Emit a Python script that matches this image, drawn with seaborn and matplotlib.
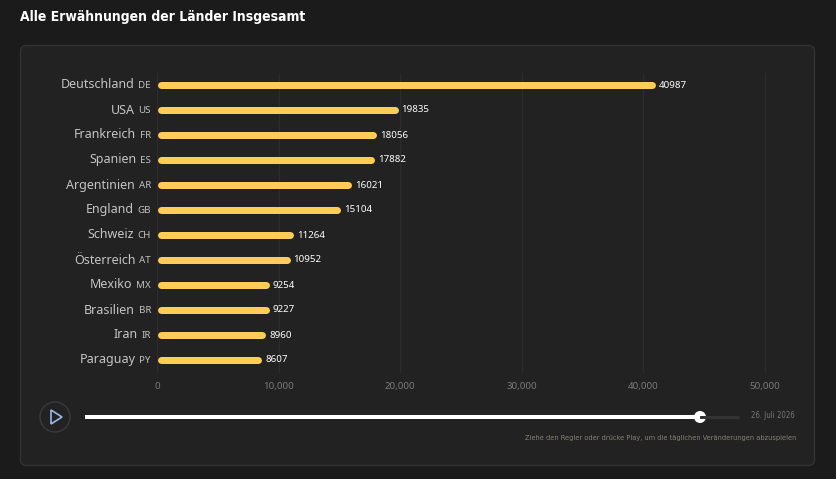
import matplotlib
matplotlib.use("Agg")
import matplotlib.pyplot as plt
import seaborn as sns
import pandas as pd
from matplotlib.patches import FancyBboxPatch, Circle, Polygon
from matplotlib.lines import Line2D
from matplotlib.ticker import FuncFormatter

countries = ["Deutschland", "USA", "Frankreich", "Spanien", "Argentinien", "England",
             "Schweiz", "Österreich", "Mexiko", "Brasilien", "Iran", "Paraguay"]
codes = ["DE", "US", "FR", "ES", "AR", "GB", "CH", "AT", "MX", "BR", "IR", "PY"]
values = [40987, 19835, 18056, 17882, 16021, 15104, 11264, 10952, 9254, 9227, 8960, 8607]
x_ticks = [0, 10000, 20000, 30000, 40000, 50000]
title = "Alle Erwähnungen der Länder Insgesamt"
date_label = "26. Juli 2026"
hint = "Ziehe den Regler oder drücke Play, um die täglichen Veränderungen abzuspielen"

sns.set_theme(style="dark")
plt.rcParams['font.family'] = ['Noto Sans', 'DejaVu Sans']
NARROW = ["DejaVu Sans"]

W, H = 836, 479
fig = plt.figure(figsize=(W / 100, H / 100), dpi=100, facecolor="#1b1b1b")

def px(x, y):
    return (x, H - y)

# panel
panel = FancyBboxPatch((20.5, H - 465.5), 794, 420, boxstyle="round,pad=0,rounding_size=6",
                       transform=None, facecolor="#222222", edgecolor="#333333", lw=1, zorder=-5)
fig.patches.append(panel)

fig.text(20 / W, 1 - 17 / H, title, color="white", fontsize=10, fontweight="bold",
         family=NARROW, fontstretch="condensed", va="center", ha="left")

ax = fig.add_axes([157 / W, 1 - 372.5 / H, (771 - 157) / W, 300 / H])
ax.set_zorder(2)
ax.set_facecolor("none")
df = pd.DataFrame({"country": countries, "value": values})
sns.barplot(data=df, x="value", y="country", orient="h", color="#FFCD57", width=0.28, ax=ax)
ax.set_xlim(0, 50500)
ax.set_ylim(11.5, -0.5)
ax.set_xticks(x_ticks)
ax.xaxis.set_major_formatter(FuncFormatter(lambda v, p: f"{int(v):,}"))
ax.tick_params(axis="x", colors="#7a7a7a", labelsize=7, length=0, pad=7)
ax.tick_params(axis="y", length=0, labelleft=False)
ax.set_xlabel("")
ax.set_ylabel("")
for s in ax.spines.values():
    s.set_visible(False)
ax.grid(axis="x", color="#2c2c2c", lw=1)
ax.grid(axis="y", visible=False)
ax.set_axisbelow(True)

fig.canvas.draw()
unit = 1 / (ax.transData.transform((1, 0))[0] - ax.transData.transform((0, 0))[0])
lw_px = 7
for p, v in zip(ax.patches, values):
    p.set_visible(False)
    yc = p.get_y() + p.get_height() / 2
    x0 = p.get_x() + lw_px / 2 * unit
    x1 = p.get_x() + p.get_width() - lw_px / 2 * unit
    ax.add_line(Line2D([x0, x1], [yc, yc], color="#FFCD57", lw=lw_px * 0.72,
                       solid_capstyle="round", zorder=3))
    ax.annotate(f"{v}", xy=(p.get_x() + p.get_width(), yc), xytext=(2.5, 0),
                textcoords="offset points", color="white", fontsize=7, va="center", ha="left")

fig.canvas.draw()
renderer = fig.canvas.get_renderer()
for i, (name, code) in enumerate(zip(countries, codes)):
    t = ax.annotate(code, xy=(0, i), xycoords=("axes fraction", "data"), xytext=(-6 * 0.72, -0.5),
                    textcoords="offset points", ha="right", va="center", fontsize=7,
                    color="#c0c0c0", fontweight="semibold")
    w = t.get_window_extent(renderer).width
    ax.annotate(name, xy=(0, i), xycoords=("axes fraction", "data"),
                xytext=(-(6 + w + 4) * 0.72, 0), textcoords="offset points", ha="right",
                va="center", fontsize=9, color="#c4c4c4")

# slider area
fig.patches.append(Circle(px(55, 417), 15, transform=None, facecolor="none",
                          edgecolor="#3a3a3a", lw=1))
fig.patches.append(Polygon([px(51, 410), px(51, 424), px(62, 417)], closed=True,
                           transform=None, facecolor="none", edgecolor="#9ab8e8", lw=1.2))
fig.lines.append(Line2D([700, 738], [H - 417, H - 417], transform=None, color="#333333",
                        lw=3 * 0.72, solid_capstyle="round"))
fig.lines.append(Line2D([85, 700], [H - 417, H - 417], transform=None, color="white",
                        lw=4 * 0.72, solid_capstyle="butt"))
fig.patches.append(Circle(px(700, 417), 6, transform=None, facecolor="white", edgecolor="none"))
fig.text(795 / W, 1 - 416 / H, date_label, color="#777777", fontsize=5.6, family=NARROW,
         fontstretch="condensed", ha="right", va="center")
fig.text(796 / W, 1 - 438 / H, hint, color="#8a7f74", fontsize=5.3, family=NARROW,
         fontstretch="condensed", ha="right", va="center")

fig.savefig("out.png", dpi=100, facecolor=fig.get_facecolor())
